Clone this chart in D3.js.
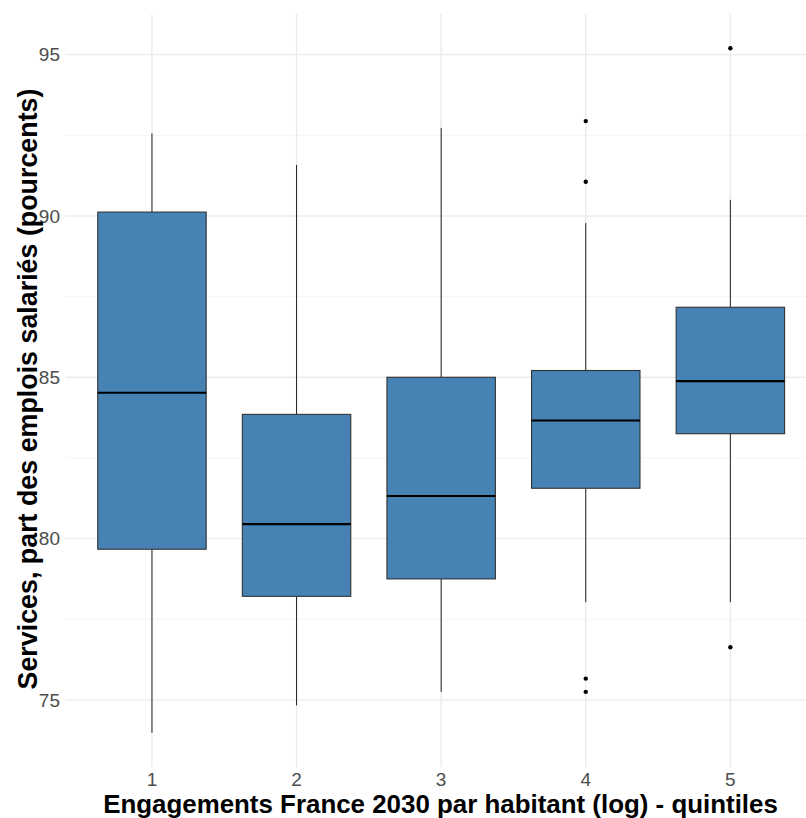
<!DOCTYPE html>
<html><head><meta charset="utf-8">
<script src="https://cdn.jsdelivr.net/npm/d3@7"></script>
<style>body{margin:0;background:#fff}svg{display:block}</style>
</head><body>
<svg id="c" width="806" height="818"></svg>
<script>
const categories = ["1","2","3","4","5"];
const lowerWhisker = [73.98, 74.83, 75.25, 78.03, 78.03];
const q1 = [79.67, 78.21, 78.75, 81.56, 83.25];
const median = [84.52, 80.45, 81.32, 83.66, 84.88];
const q3 = [90.12, 83.85, 85.0, 85.21, 87.17];
const upperWhisker = [92.56, 91.58, 92.73, 89.78, 90.5];
const outliers = [[], [], [], [92.94, 91.06, 75.66, 75.25], [95.2, 76.63]];
const yTicks = [75, 80, 85, 90, 95];
const yMinor = [77.5, 82.5, 87.5, 92.5];
const xTitle = "Engagements France 2030 par habitant (log) - quintiles";
const yTitle = "Services, part des emplois salariés (pourcents)";

const svg = d3.select("#c");
const pLeft = 65.2, pStep = 144.6, pTop = 14, pBottom = 767;
const x = d3.scalePoint().domain(categories).range([pLeft, pLeft + pStep * 5.2]).padding(0.6);
const xc = d => x(d);
const y = d3.scaleLinear().domain([72.92, 96.26]).range([pBottom, pTop]);
const font = "'Liberation Sans', Arial, sans-serif";

const g = svg.append("g");
g.selectAll(".minor").data(yMinor).join("line")
  .attr("x1", pLeft).attr("x2", 806).attr("y1", d => y(d)).attr("y2", d => y(d))
  .attr("stroke", "#f2f2f2").attr("stroke-width", 0.8);
g.selectAll(".major").data(yTicks).join("line")
  .attr("x1", pLeft).attr("x2", 806).attr("y1", d => y(d)).attr("y2", d => y(d))
  .attr("stroke", "#ebebeb").attr("stroke-width", 1.4);
g.selectAll(".vg").data(categories).join("line")
  .attr("x1", d => xc(d)).attr("x2", d => xc(d)).attr("y1", pTop).attr("y2", pBottom)
  .attr("stroke", "#ebebeb").attr("stroke-width", 1.4);

const bw = x.step() * 0.75;
const data = categories.map((c, i) => ({c, lw: lowerWhisker[i], q1: q1[i], med: median[i], q3: q3[i], uw: upperWhisker[i], out: outliers[i]}));
const bx = g.selectAll(".box").data(data).join("g");
bx.append("line").attr("x1", d => xc(d.c)).attr("x2", d => xc(d.c))
  .attr("y1", d => y(d.uw)).attr("y2", d => y(d.q3)).attr("stroke", "#222").attr("stroke-width", 1);
bx.append("line").attr("x1", d => xc(d.c)).attr("x2", d => xc(d.c))
  .attr("y1", d => y(d.q1)).attr("y2", d => y(d.lw)).attr("stroke", "#222").attr("stroke-width", 1);
bx.append("rect").attr("x", d => xc(d.c) - bw / 2).attr("width", bw)
  .attr("y", d => y(d.q3)).attr("height", d => y(d.q1) - y(d.q3))
  .attr("fill", "#4682B4").attr("stroke", "#333").attr("stroke-width", 1.1);
bx.append("line").attr("x1", d => xc(d.c) - bw / 2).attr("x2", d => xc(d.c) + bw / 2)
  .attr("y1", d => y(d.med)).attr("y2", d => y(d.med)).attr("stroke", "#000").attr("stroke-width", 2.2);
bx.selectAll("circle").data(d => d.out.map(v => ({c: d.c, v}))).join("circle")
  .attr("cx", d => xc(d.c)).attr("cy", d => y(d.v)).attr("r", 2.2).attr("fill", "#000");

g.selectAll(".yt").data(yTicks).join("text")
  .attr("x", 60).attr("y", d => y(d)).attr("dy", "0.35em").attr("text-anchor", "end")
  .attr("font-family", font).attr("font-size", 19).attr("fill", "#4d4d4d").text(d => d);
g.selectAll(".xt").data(categories).join("text")
  .attr("x", d => xc(d)).attr("y", 786).attr("text-anchor", "middle")
  .attr("font-family", font).attr("font-size", 19).attr("fill", "#4d4d4d").text(d => d);

const xt = svg.append("text").attr("x", 440.5).attr("y", 812.5).attr("text-anchor", "middle")
  .attr("font-family", font).attr("font-weight", "bold").attr("font-size", 24.5).attr("fill", "#000").text(xTitle);
const w = xt.node().getComputedTextLength();
if (w > 0) xt.attr("font-size", 24.5 * 675 / w);

const yt = svg.append("text").attr("transform", "translate(37,389) rotate(-90)")
  .attr("text-anchor", "middle")
  .attr("font-family", font).attr("font-weight", "bold").attr("font-size", 24.5).attr("fill", "#000").text(yTitle);
const w2 = yt.node().getComputedTextLength();
if (w2 > 0) yt.attr("font-size", 24.5 * 601 / w2);
</script>
</body></html>
